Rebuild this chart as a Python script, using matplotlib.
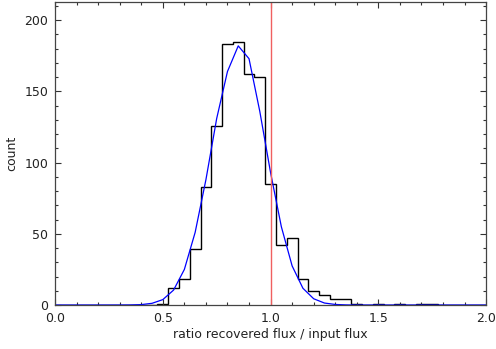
import numpy as np
import matplotlib
matplotlib.use("Agg")
import matplotlib.pyplot as plt
from matplotlib.ticker import MultipleLocator

# bin centres 0.00 .. 2.00 in steps of 0.05
centers = np.round(np.arange(41) * 0.05, 2)

# histogram counts
counts = [0, 0, 0, 0, 0, 0, 0, 0, 0, 0,
          1, 12, 18, 39, 83, 126, 183, 185, 162, 160,
          85, 42, 47, 18, 10, 7, 4, 4, 1, 0,
          1, 0, 1, 0, 1, 1, 0, 0, 0, 0, 0]

# gaussian fit curve, read at the same centres
fit = [0, 0, 0, 0, 0, 0, 0.01, 0.07, 0.3, 1.2,
       3.8, 10.5, 25, 51, 88, 131, 164, 182, 173, 136,
       93, 55, 27.5, 11.8, 4.4, 1.4, 0.4, 0.1, 0, 0,
       0, 0, 0, 0, 0, 0, 0, 0, 0, 0, 0]

ratio_true = 1.0

fig = plt.figure(figsize=(4.96, 3.49), dpi=100)
ax = fig.add_axes([0.111, 0.126, 0.869, 0.868])

edges = np.append(centers - 0.025, centers[-1] + 0.025)
ax.stairs(counts, edges, color="black", lw=1.0)
ax.plot(centers, fit, color="#0000ff", lw=0.9)
ax.axvline(ratio_true, color="#f06060", lw=1.0)

ax.set_xlim(0, 2.0)
ax.set_ylim(0, 212.75)

ax.xaxis.set_major_locator(MultipleLocator(0.5))
ax.xaxis.set_minor_locator(MultipleLocator(0.1))
ax.yaxis.set_major_locator(MultipleLocator(50))
ax.yaxis.set_minor_locator(MultipleLocator(10))
ax.xaxis.set_major_formatter(matplotlib.ticker.FormatStrFormatter("%.1f"))

ax.tick_params(which="both", direction="in", top=True, right=True,
               color="#333333", labelsize=9, labelcolor="#222222")
ax.tick_params(which="major", length=4, width=0.8, pad=5)
ax.tick_params(which="minor", length=2.3, width=0.8)
for s in ax.spines.values():
    s.set_color("#444444")
    s.set_linewidth(0.9)

ax.set_xlabel("ratio recovered flux / input flux", fontsize=9, color="#222222", labelpad=2)
ax.set_ylabel("count", fontsize=9, color="#222222", labelpad=4)

fig.savefig("out.png", dpi=100)
